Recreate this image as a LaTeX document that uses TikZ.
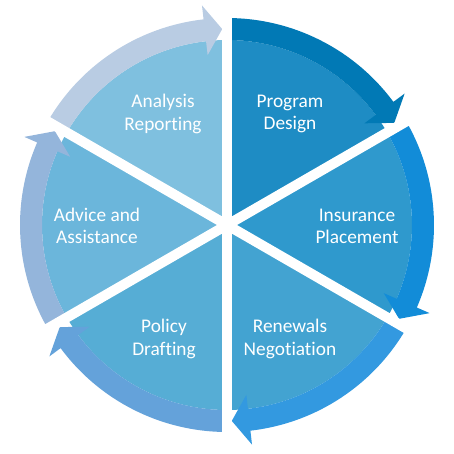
\documentclass[tikz,border=0pt]{standalone}
\usepackage{fontspec}
\setmainfont[Ligatures=NoCommon]{Carlito}
\usetikzlibrary{calc}
\definecolor{cyAna}   {HTML}{7FC0DF}
\definecolor{cyProg}  {HTML}{1E8CC4}
\definecolor{cyIns}   {HTML}{2F99CD}
\definecolor{cyRen}   {HTML}{43A3D1}
\definecolor{cyPol}   {HTML}{56ADD5}
\definecolor{cyAdv}   {HTML}{6BB6DB}
\definecolor{arAna}   {HTML}{B9CCE3}
\definecolor{arProg}  {HTML}{0179B5}
\definecolor{arIns}   {HTML}{128CD8}
\definecolor{arRen}   {HTML}{3399E0}
\definecolor{arPol}   {HTML}{64A2DA}
\definecolor{arAdv}   {HTML}{94B5DB}
\begin{document}
\begin{tikzpicture}[
  lbl/.style={text=white,align=center,font=\fontsize{11}{12.6}\selectfont},
  gap/.style={draw=white,line width=0.2cm}
]
\useasboundingbox (-4.54,-4.58) rectangle (4.54,4.50);
% sectors and ring arrows, clockwise from the top
\foreach \s/\sc in {90/cyProg,30/cyIns,-30/cyRen,-90/cyPol,-150/cyAdv,-210/cyAna}{
  \pgfmathsetmacro{\e}{\s-60}
  \fill[\sc] (0,0) -- (\s:3.7) arc[start angle=\s,end angle=\e,radius=3.7] -- cycle;
}
\foreach \s/\ac in {90/arProg,30/arIns,-30/arRen,-90/arPol,-150/arAdv,-210/arAna}{
  \pgfmathsetmacro{\b}{\s-53.5}
  \pgfmathsetmacro{\t}{\s-58.6}
  \fill[\ac] (\s:4.14) arc[start angle=\s,end angle=\b,radius=4.14]
     -- (\b:4.42) -- (\t:3.92) -- (\b:3.42) -- (\b:3.70)
     arc[start angle=\b,end angle=\s,radius=3.70] -- cycle;
}
% white cuts between the sectors
\coordinate (ctr) at (0,0);
\foreach \a in {90,30,-30,-90,-150,150}
  \draw[gap] (ctr) -- (\a:4.7);

\node[lbl] (lAna)  at (-1.28, 2.22) {Analysis\\Reporting};
\node[lbl] (lProg) at ( 1.26, 2.22) {Program\\Design};
\node[lbl] (lIns)  at ( 2.60,-0.02) {Insurance\\Placement};
\node[lbl] (lRen)  at ( 1.26,-2.28) {Renewals\\Negotiation};
\node[lbl] (lPol)  at (-1.26,-2.28) {Policy\\Drafting};
\node[lbl] (lAdv)  at (-2.60,-0.02) {Advice and\\Assistance};
\end{tikzpicture}
\end{document}
